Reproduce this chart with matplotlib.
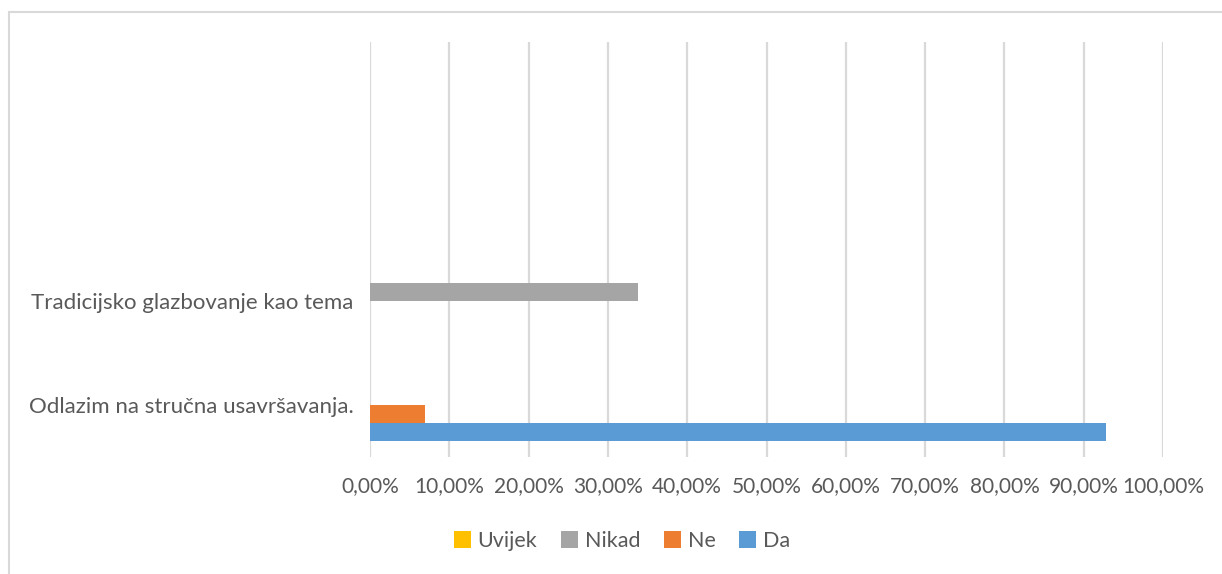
import numpy as np
import matplotlib.pyplot as plt
from matplotlib.patches import Rectangle
from matplotlib.ticker import FuncFormatter

plt.rcParams['font.family'] = ['Lato', 'DejaVu Sans']

categories = ['Odlazim na stručna usavršavanja.', 'Tradicijsko glazbovanje kao tema', '', '']
series = ['Da', 'Ne', 'Nikad', 'Uvijek']
da = [92.86, 0, 0, 0]
ne = [6.9, 0, 0, 0]
nikad = [0, 33.8, 0, 0]
uvijek = [0, 0, 0, 0]
colors = ['#5B9BD5', '#ED7D31', '#A5A5A5', '#FFC000']

W, H = 1222, 574
fig = plt.figure(figsize=(W / 100, H / 100), dpi=100)
ax = fig.add_axes([370 / W, 1 - 457 / H, 793 / W, 415 / H])

# chart border
fig.patches.append(Rectangle((9 / W, -0.1), 1.2, 1 - 12 / H + 0.1, transform=fig.transFigure,
                             fill=False, edgecolor='#D9D9D9', linewidth=1.5))

y = np.arange(len(categories))
h = 0.175
values = [da, ne, nikad, uvijek]
for i, (name, vals) in enumerate(zip(series, values)):
    ax.barh(y + (i - 1.5) * h, vals, height=h, color=colors[i], label=name, zorder=3)

ax.set_xlim(0, 100)
ax.set_ylim(-0.5, 3.5)
ax.set_xticks(np.arange(0, 101, 10))
ax.xaxis.set_major_formatter(FuncFormatter(lambda v, p: ('%.2f%%' % v).replace('.', ',')))
ax.set_yticks(y)
ax.set_yticklabels(categories)
ax.grid(axis='x', color='#D9D9D9', linewidth=1.6, zorder=0)
for s in ax.spines.values():
    s.set_visible(False)
ax.tick_params(axis='both', length=0, colors='#595959')
ax.tick_params(axis='x', pad=14, labelsize=15)
ax.tick_params(axis='y', pad=12, labelsize=16)

handles, labels = ax.get_legend_handles_labels()
fig.legend(handles[::-1], labels[::-1], loc='center', bbox_to_anchor=(622 / W, 1 - 541 / H),
           ncol=4, frameon=False, fontsize=15.5, labelcolor='#595959', handlelength=0.8,
           handleheight=0.8, handletextpad=0.3, columnspacing=1.1)

fig.savefig('out.png', dpi=100)
